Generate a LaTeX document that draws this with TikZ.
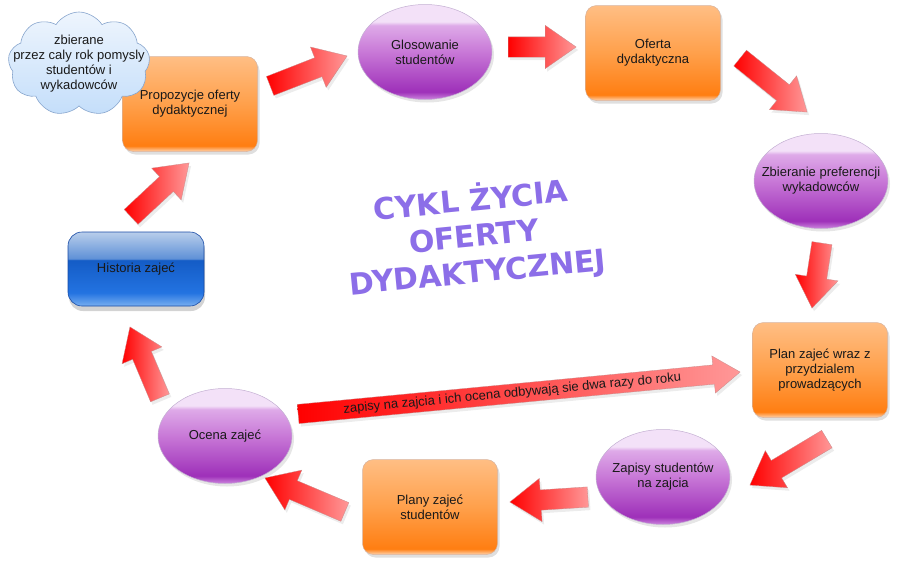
\documentclass[tikz,border=0pt]{standalone}
\usepackage{fontspec}
\setmainfont{Liberation Sans}
\newfontfamily\titlefont{DejaVu Sans}
\usepackage{tikz}
\usetikzlibrary{shapes.geometric,shapes.arrows,shapes.symbols,shadows,calc}

\definecolor{txt}{RGB}{25,25,25}
\definecolor{titlecol}{RGB}{140,110,232}
\definecolor{or1}{RGB}{255,212,175}
\definecolor{or2}{RGB}{255,126,18}
\definecolor{or3}{RGB}{255,160,75}
\definecolor{or4}{RGB}{255,190,132}
\definecolor{orborder}{RGB}{215,180,160}
\definecolor{pu1}{RGB}{205,135,222}
\definecolor{pu2}{RGB}{158,48,185}
\definecolor{pu3}{RGB}{200,120,215}
\definecolor{pu4}{RGB}{222,170,232}
\definecolor{pu5}{RGB}{243,225,248}
\definecolor{puborder}{RGB}{195,175,210}
\definecolor{bl1}{RGB}{120,175,240}
\definecolor{bl2}{RGB}{35,115,225}
\definecolor{bl3}{RGB}{20,92,198}
\definecolor{bl4}{RGB}{95,145,215}
\definecolor{bl5}{RGB}{185,206,235}
\definecolor{blborder}{RGB}{25,75,165}
\definecolor{cl1}{RGB}{196,222,250}
\definecolor{cl2}{RGB}{238,245,253}
\definecolor{clborder}{RGB}{135,165,205}
\definecolor{arrtail}{RGB}{255,0,0}
\definecolor{arrhead}{RGB}{255,152,152}
\definecolor{arrborder}{RGB}{200,140,140}

\pgfdeclareverticalshading{orangebox}{100bp}{color(0bp)=(or1); color(25bp)=(or1);
  color(28bp)=(or2); color(50bp)=(or3); color(75bp)=(or4); color(100bp)=(or4)}
\pgfdeclareverticalshading{purpleball}{100bp}{color(0bp)=(pu1); color(25bp)=(pu1);
  color(29bp)=(pu2); color(50bp)=(pu3); color(64bp)=(pu4); color(66bp)=(pu5); color(100bp)=(pu5)}
\pgfdeclareverticalshading{bluebox}{100bp}{color(0bp)=(bl1); color(25bp)=(bl1);
  color(34bp)=(bl2); color(56bp)=(bl3); color(57bp)=(bl4); color(75bp)=(bl5); color(100bp)=(bl5)}

\tikzset{
  label text/.style={text=txt, align=center, font=\fontsize{13}{15}\selectfont},
  orangebox/.style={label text, rectangle, rounded corners=11pt, draw=orborder, line width=.5pt,
    shading=orangebox, minimum width=135pt, minimum height=95pt, inner sep=2pt,
    drop shadow={shadow xshift=2pt, shadow yshift=-3pt, opacity=.25}},
  purpleball/.style={label text, ellipse, draw=puborder, line width=.5pt,
    shading=purpleball, minimum width=134pt, minimum height=95pt,
    inner xsep=-14pt, inner ysep=-8pt,
    drop shadow={shadow xshift=2pt, shadow yshift=-3pt, opacity=.2}},
  bluebox/.style={label text, rectangle, rounded corners=14pt, draw=blborder, line width=.6pt,
    shading=bluebox, minimum width=136pt, minimum height=74pt, inner sep=2pt,
    drop shadow={shadow xshift=1pt, shadow yshift=-5pt, opacity=.35}},
  idea/.style={label text, cloud, cloud puffs=9, cloud puff arc=115, aspect=1.35,
    draw=clborder, line width=.6pt, top color=cl2, bottom color=cl1,
    minimum width=142pt, minimum height=104pt, inner xsep=-30pt, inner ysep=-22pt},
  blockarrow/.style={single arrow, shape border rotate=0, draw=arrborder, line width=.3pt,
    left color=arrtail, right color=arrhead, inner xsep=0pt, inner ysep=10pt,
    single arrow head extend=11.5pt, single arrow tip angle=70,
    pos=0, anchor=tail, sloped, allow upside down,
    drop shadow={shadow xshift=2pt, shadow yshift=-3pt, opacity=.15}},
  longarrow/.style={blockarrow, text=txt, font=\fontsize{13}{15}\selectfont,
    text height=10pt, text depth=3pt, inner ysep=3pt, single arrow head extend=9pt}
}

\begin{document}
\begin{tikzpicture}[x=1pt,y=-1pt]
\useasboundingbox (0,0) rectangle (903,568);

% wezly cyklu
\node[orangebox] (prop) at (190,104) {Propozycje oferty\\dydaktycznej};
\node[idea] (idea) at (79,64) {zbierane\\przez caly rok pomysly\\studentów i\\wykadowców};
\node[purpleball] (glos) at (425,52) {Glosowanie\\studentów};
\node[orangebox] (oferta) at (653,53) {Oferta\\dydaktyczna};
\node[purpleball] (zbier) at (821,181) {Zbieranie preferencji\\wykadowców};
\node[orangebox] (plan) at (820,370) {Plan zajeć wraz z\\przydzialem\\prowadzących};
\node[purpleball] (zapisy) at (663,477) {Zapisy studentów\\na zajcia};
\node[orangebox] (plany) at (430,507) {Plany zajeć\\studentów};
\node[purpleball] (ocena) at (225,436) {Ocena zajeć};
\node[bluebox] (hist) at (136,269) {Historia zajeć};

\node[text=titlecol, align=center, rotate=5.5, inner sep=0pt,
  font=\titlefont\bfseries\fontsize{30}{36}\selectfont]
  (title) at (474,236) {CYKL ŻYCIA\\OFERTY\\DYDAKTYCZNEJ};

% strzalki
\coordinate (t1) at (270,86);  \coordinate (h1) at (347,56);
\coordinate (t2) at (508,47);  \coordinate (h2) at (576,47);
\coordinate (t3) at (740,58);  \coordinate (h3) at (807,112);
\coordinate (t4) at (822,243); \coordinate (h4) at (812,308);
\coordinate (t5) at (827,439); \coordinate (h5) at (750,485);
\coordinate (t6) at (588,497); \coordinate (h6) at (510,502);
\coordinate (t7) at (345,512); \coordinate (h7) at (265,478);
\coordinate (t8) at (160,398); \coordinate (h8) at (130,327);
\coordinate (t9) at (131,217); \coordinate (h9) at (189,163);
\coordinate (t10) at (298,414); \coordinate (h10) at (740,372);

\foreach \t/\h in {t1/h1,t2/h2,t3/h3,t4/h4,t5/h5,t6/h6,t7/h7,t8/h8,t9/h9}
  \path let \p1=($(\h)-(\t)$), \n1={veclen(\x1,\y1)} in
    (\t) -- node[blockarrow, minimum height=\n1] {} (\h);

\path let \p1=($(h10)-(t10)$), \n1={veclen(\x1,\y1)} in
  (t10) -- node[longarrow, minimum height=\n1] (roczny)
  {zapisy na zajcia i ich ocena odbywają sie dwa razy do roku} (h10);
\end{tikzpicture}
\end{document}
